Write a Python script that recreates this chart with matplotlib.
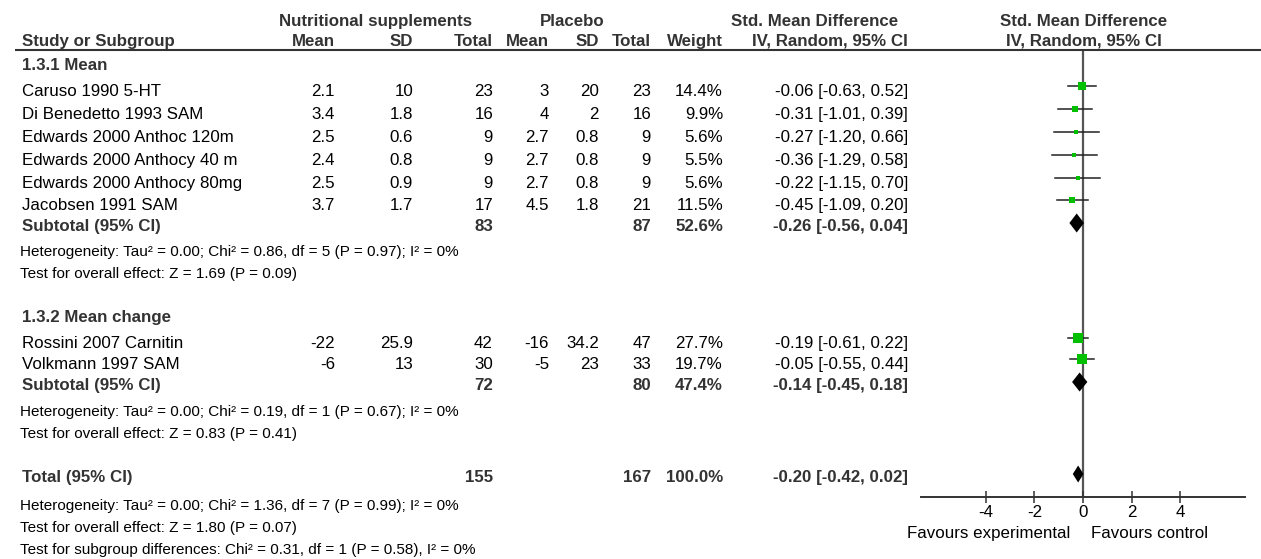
import matplotlib
matplotlib.use("Agg")
import matplotlib.pyplot as plt
import numpy as np

plt.rcParams['font.family'] = ['Liberation Sans', 'DejaVu Sans']

# ---------------- data ----------------
g1_title = "1.3.1 Mean"
g1_studies = ["Caruso 1990 5-HT", "Di Benedetto 1993 SAM", "Edwards 2000 Anthoc 120m",
              "Edwards 2000 Anthocy 40 m", "Edwards 2000 Anthocy 80mg", "Jacobsen 1991 SAM"]
g1_exp_mean = [2.1, 3.4, 2.5, 2.4, 2.5, 3.7]
g1_exp_sd = [10, 1.8, 0.6, 0.8, 0.9, 1.7]
g1_exp_n = [23, 16, 9, 9, 9, 17]
g1_pl_mean = [3, 4, 2.7, 2.7, 2.7, 4.5]
g1_pl_sd = [20, 2, 0.8, 0.8, 0.8, 1.8]
g1_pl_n = [23, 16, 9, 9, 9, 21]
g1_weight = [14.4, 9.9, 5.6, 5.5, 5.6, 11.5]
g1_smd = [-0.06, -0.31, -0.27, -0.36, -0.22, -0.45]
g1_lo = [-0.63, -1.01, -1.20, -1.29, -1.15, -1.09]
g1_hi = [0.52, 0.39, 0.66, 0.58, 0.70, 0.20]
g1_sub = dict(exp_n=83, pl_n=87, weight=52.6, smd=-0.26, lo=-0.56, hi=0.04)
g1_het = "Heterogeneity: Tau² = 0.00; Chi² = 0.86, df = 5 (P = 0.97); I² = 0%"
g1_test = "Test for overall effect: Z = 1.69 (P = 0.09)"

g2_title = "1.3.2 Mean change"
g2_studies = ["Rossini 2007 Carnitin", "Volkmann 1997 SAM"]
g2_exp_mean = [-22, -6]
g2_exp_sd = [25.9, 13]
g2_exp_n = [42, 30]
g2_pl_mean = [-16, -5]
g2_pl_sd = [34.2, 23]
g2_pl_n = [47, 33]
g2_weight = [27.7, 19.7]
g2_smd = [-0.19, -0.05]
g2_lo = [-0.61, -0.55]
g2_hi = [0.22, 0.44]
g2_sub = dict(exp_n=72, pl_n=80, weight=47.4, smd=-0.14, lo=-0.45, hi=0.18)
g2_het = "Heterogeneity: Tau² = 0.00; Chi² = 0.19, df = 1 (P = 0.67); I² = 0%"
g2_test = "Test for overall effect: Z = 0.83 (P = 0.41)"

total = dict(exp_n=155, pl_n=167, weight=100.0, smd=-0.20, lo=-0.42, hi=0.02)
total_het = "Heterogeneity: Tau² = 0.00; Chi² = 1.36, df = 7 (P = 0.99); I² = 0%"
total_test = "Test for overall effect: Z = 1.80 (P = 0.07)"
subgroup_test = "Test for subgroup differences: Chi² = 0.31, df = 1 (P = 0.58), I² = 0%"

xticks = [-4, -2, 0, 2, 4]
fav_left = "Favours experimental"
fav_right = "Favours control"

# ---------------- layout ----------------
W, H = 1261, 559
fig = plt.figure(figsize=(W / 100, H / 100), dpi=100)
ax = fig.add_axes([0, 0, 1, 1])
ax.set_xlim(0, W)
ax.set_ylim(H, 0)
ax.axis('off')

FS = 12.2
FS_NOTE = 11.0
BOLD_C = '#333333'
TXT_C = '#000000'

# column right edges (pixels)
col_em, col_esd, col_en = 335, 413, 493
col_pm, col_psd, col_pn = 549, 599, 651
col_w, col_ci = 723, 908
x_left = 22
x_note = 20


def put(x, y, s, ha='left', bold=False, size=FS):
    ax.text(x, y + size * 0.49, s, ha=ha, va='baseline', fontsize=size,
            fontweight='bold' if bold else 'normal',
            color=BOLD_C if bold else TXT_C)


# headers
put(376, 20, "Nutritional supplements", ha='center', bold=True)
put(572, 20, "Placebo", ha='center', bold=True)
put(815, 20, "Std. Mean Difference", ha='center', bold=True)
put(1084, 20, "Std. Mean Difference", ha='center', bold=True)
put(x_left, 40, "Study or Subgroup", bold=True)
for x, s in [(col_em, "Mean"), (col_esd, "SD"), (col_en, "Total"), (col_pm, "Mean"),
             (col_psd, "SD"), (col_pn, "Total"), (col_w, "Weight"),
             (col_ci, "IV, Random, 95% CI")]:
    put(x, 40, s, ha='right', bold=True)
put(1084, 40, "IV, Random, 95% CI", ha='center', bold=True)
ax.plot([15, W], [50, 50], color='#333333', lw=1.5, solid_capstyle='butt')

# forest axes: y in pixel rows, x in SMD units
x0_px, x1_px, zero_px, unit_px = 921, 1245, 1083, 24.3
axis_y, top_y = 497, 51
fax = fig.add_axes([x0_px / W, (H - axis_y) / H, (x1_px - x0_px) / W, (axis_y - top_y) / H])
fax.set_xlim((x0_px - zero_px) / unit_px, (x1_px - zero_px) / unit_px)
fax.set_ylim(axis_y, top_y)
fax.patch.set_alpha(0)
for sp in ['top', 'left', 'right']:
    fax.spines[sp].set_visible(False)
fax.spines['bottom'].set_color('#333333')
fax.spines['bottom'].set_linewidth(1.4)
fax.set_yticks([])
fax.set_xticks(xticks)
fax.set_xticklabels([f"{t:g}" for t in xticks], fontsize=FS)
fax.tick_params(axis='x', direction='inout', length=8.5, width=1.1, color='#333333', pad=1.5)
fax.axvline(0, color='#555555', lw=1.6, zorder=1)

GREEN = '#00c000'


def fmt_ci(e, lo, hi):
    return f"{e:.2f} [{lo:.2f}, {hi:.2f}]"


def study_rows(ys, names, em, esd, en, pm, psd, pn, w, smd, lo, hi):
    for i, y in enumerate(ys):
        put(x_left, y, names[i])
        put(col_em, y, f"{em[i]:g}", ha='right')
        put(col_esd, y, f"{esd[i]:g}", ha='right')
        put(col_en, y, f"{en[i]:g}", ha='right')
        put(col_pm, y, f"{pm[i]:g}", ha='right')
        put(col_psd, y, f"{psd[i]:g}", ha='right')
        put(col_pn, y, f"{pn[i]:g}", ha='right')
        put(col_w, y, f"{w[i]:.1f}%", ha='right')
        put(col_ci, y, fmt_ci(smd[i], lo[i], hi[i]), ha='right')
        my = y - 4
        fax.plot([lo[i], hi[i]], [my, my], color='#222222', lw=1.1, zorder=2)
        side_px = 2.05 * np.sqrt(w[i])
        fax.plot([smd[i]], [my], marker='s', ms=side_px * 0.72, color=GREEN,
                 mec=GREEN, mew=0, zorder=3)


def summary_row(y, label, d, h):
    put(x_left, y, label, bold=True)
    put(col_en, y, f"{d['exp_n']}", ha='right', bold=True)
    put(col_pn, y, f"{d['pl_n']}", ha='right', bold=True)
    put(col_w, y, f"{d['weight']:.1f}%", ha='right', bold=True)
    put(col_ci, y, fmt_ci(d['smd'], d['lo'], d['hi']), ha='right', bold=True)
    my = y - 2
    fax.fill([d['lo'], d['smd'], d['hi'], d['smd']],
             [my, my - h / 2, my, my + h / 2], color='black', lw=0, zorder=3)


# group 1
put(x_left, 64, g1_title, bold=True)
study_rows([90, 113, 136, 159, 182, 204], g1_studies, g1_exp_mean, g1_exp_sd, g1_exp_n,
           g1_pl_mean, g1_pl_sd, g1_pl_n, g1_weight, g1_smd, g1_lo, g1_hi)
summary_row(225, "Subtotal (95% CI)", g1_sub, 19)
put(x_note, 251, g1_het, size=FS_NOTE)
put(x_note, 273, g1_test, size=FS_NOTE)

# group 2
put(x_left, 316, g2_title, bold=True)
study_rows([342, 363], g2_studies, g2_exp_mean, g2_exp_sd, g2_exp_n,
           g2_pl_mean, g2_pl_sd, g2_pl_n, g2_weight, g2_smd, g2_lo, g2_hi)
summary_row(384, "Subtotal (95% CI)", g2_sub, 19)
put(x_note, 411, g2_het, size=FS_NOTE)
put(x_note, 433, g2_test, size=FS_NOTE)

# total
summary_row(476, "Total (95% CI)", total, 17)
put(x_note, 505, total_het, size=FS_NOTE)
put(x_note, 527, total_test, size=FS_NOTE)
put(x_note, 549, subgroup_test, size=FS_NOTE)

put(1070, 532, fav_left, ha='right')
put(1091, 532, fav_right, ha='left')

fig.savefig("out.png", dpi=100)
